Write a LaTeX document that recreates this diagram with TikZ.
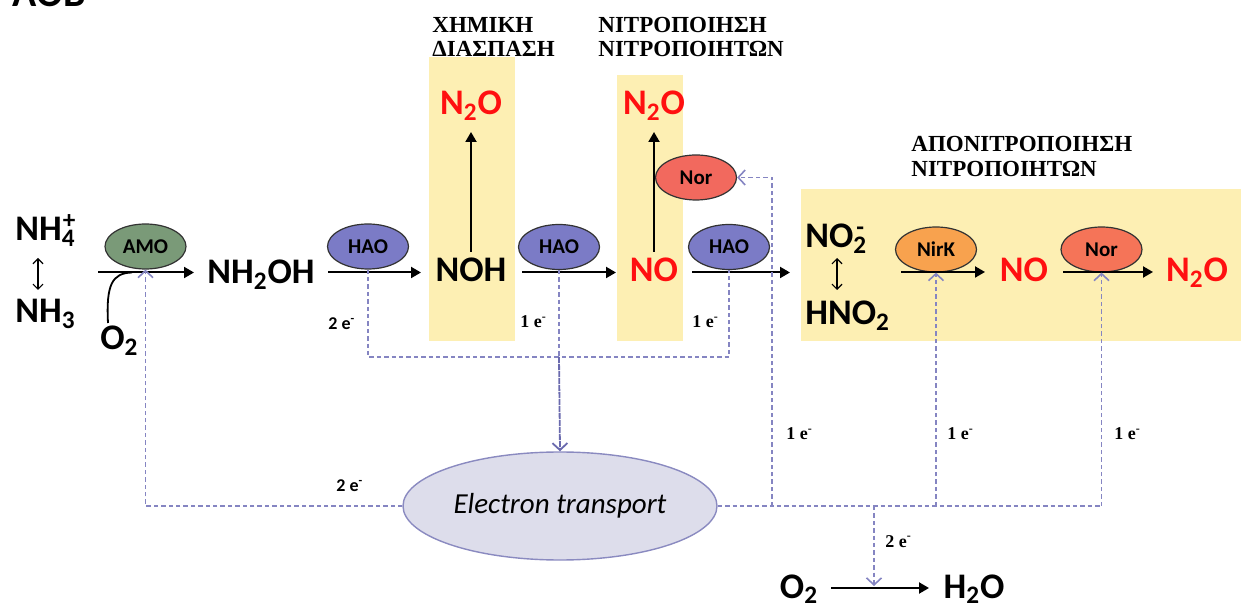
\documentclass[tikz,border=0pt]{standalone}
\usepackage{fontspec}
\setmainfont{Carlito}
\newfontfamily\grk{Liberation Serif}[BoldFont={Liberation Serif Bold}]
\usetikzlibrary{arrows.meta,shapes.geometric}
\definecolor{ylw}{HTML}{FDEFB3}
\definecolor{nred}{HTML}{FF1010}
\definecolor{amoc}{HTML}{7A9A78}
\definecolor{haoc}{HTML}{7B7BC6}
\definecolor{norc}{HTML}{F2695E}
\definecolor{nirc}{HTML}{F8A24E}
\definecolor{nor2c}{HTML}{F57458}
\definecolor{etfill}{HTML}{DDDDEB}
\definecolor{etdraw}{HTML}{8A8AC0}
\definecolor{dcol}{HTML}{8585C2}
\definecolor{dcold}{HTML}{6A6AAE}
\begin{document}
\begin{tikzpicture}[x=0.5pt,y=-0.5pt,
  chem/.style={font=\fontsize{18}{20}\selectfont\bfseries, inner sep=0pt, anchor=base},
  redchem/.style={chem, text=nred},
  enz/.style={ellipse, draw=black!80, line width=0.6pt, minimum width=40.5pt, minimum height=22.5pt, inner sep=0pt, font=\fontsize{10.5}{12}\selectfont\bfseries},
  rx/.style={line width=1pt, -{Triangle[length=5pt,width=5.5pt]}},
  el/.style={draw=dcol, line width=0.85pt, dash pattern=on 2.2pt off 1.5pt},
  elarrow/.style={el, -{Straight Barb[length=3.5pt,width=7.5pt,line width=0.8pt]}},
  hdr/.style={font=\grk\bfseries\fontsize{11.5}{12}\selectfont, anchor=base west, inner sep=0pt},
  elab/.style={font=\fontsize{9}{10}\selectfont\bfseries, inner sep=0pt, anchor=base west},
  elabs/.style={font=\grk\bfseries\fontsize{9}{10}\selectfont, inner sep=0pt, anchor=base west},
  yb/.style={fill=ylw, draw=none}
]
\useasboundingbox (0,0) rectangle (1241,608);

% yellow boxes
\fill[yb] (429,57) rectangle (515,341);
\fill[yb] (617,75) rectangle (683,341);
\fill[yb] (801,189) rectangle (1241,341);

% title (cut at the top edge, as in the reference)
\node[anchor=base west, inner sep=0pt, font=\fontsize{20}{22}\selectfont\bfseries] (aob) at (12,7) {AOB};

% headers
\node[hdr] (h1a) at (432,33) {ΧΗΜΙΚΗ};
\node[hdr] (h1b) at (432,57) {ΔΙΑΣΠΑΣΗ};
\node[hdr] (h2a) at (598,33) {ΝΙΤΡΟΠΟΙΗΣΗ};
\node[hdr] (h2b) at (598,57) {ΝΙΤΡΟΠΟΙΗΤΩΝ};
\node[hdr] (h3a) at (911,152) {ΑΠΟΝΙΤΡΟΠΟΙΗΣΗ};
\node[hdr] (h3b) at (911,177) {ΝΙΤΡΟΠΟΙΗΤΩΝ};

% chemical species
\node[chem, anchor=base west] (nh4) at (15,241) {NH\textsubscript{4}\kern-0.35em\textsuperscript{+}};
\node[chem, anchor=base west] (nh3) at (15,323) {NH\textsubscript{3}};
\node[chem, anchor=base west] (o2a) at (100,350) {O\textsubscript{2}};
\node[chem] (nh2oh) at (261,284) {NH\textsubscript{2}OH};
\node[chem] (noh) at (471,282) {NOH};
\node[redchem] (n2oa) at (471,115) {N\textsubscript{2}O};
\node[redchem] (noa) at (654,282) {NO};
\node[redchem] (n2ob) at (654,115) {N\textsubscript{2}O};
\node[chem, anchor=base west] (no2) at (805,248) {NO\textsubscript{2}\kern-0.3em\textsuperscript{-}};
\node[chem, anchor=base west] (hno2) at (805,325) {HNO\textsubscript{2}};
\node[redchem] (nob) at (1024,282) {NO};
\node[redchem] (n2oc) at (1197,282) {N\textsubscript{2}O};
\node[chem] (o2b) at (799,598) {O\textsubscript{2}};
\node[chem] (h2o) at (974,598) {H\textsubscript{2}O};

% equilibrium arrows
\coordinate (eq1t) at (38,258); \coordinate (eq1b) at (38,290);
\coordinate (eq2t) at (837,258); \coordinate (eq2b) at (837,290);
\draw[line width=0.6pt, {Straight Barb[length=2.5pt,width=5pt]}-{Straight Barb[length=2.5pt,width=5pt]}] (eq1t) -- (eq1b);
\draw[line width=0.6pt, {Straight Barb[length=2.5pt,width=5pt]}-{Straight Barb[length=2.5pt,width=5pt]}] (eq2t) -- (eq2b);

% enzymes
\node[enz, fill=amoc] (amo) at (145.5,246.5) {AMO};
\node[enz, fill=haoc] (hao1) at (368,246.5) {HAO};
\node[enz, fill=haoc] (hao2) at (559,247) {HAO};
\node[enz, fill=norc] (nor1) at (696,177.5) {Nor};
\node[enz, fill=haoc] (hao3) at (729,247) {HAO};
\node[enz, fill=nirc] (nirk) at (936,249.5) {NirK};
\node[enz, fill=nor2c] (nor2) at (1101.5,249.5) {Nor};

% reaction arrows
\coordinate (r1s) at (98,272.5); \coordinate (r1e) at (194,272.5);
\coordinate (r2s) at (328,272.5); \coordinate (r2e) at (421,272.5);
\coordinate (r3s) at (522,272.5); \coordinate (r3e) at (616,272.5);
\coordinate (r4s) at (692,272.5); \coordinate (r4e) at (790,272.5);
\coordinate (r5s) at (901,272); \coordinate (r5e) at (985,272);
\coordinate (r6s) at (1063,272); \coordinate (r6e) at (1153,272);
\coordinate (r7s) at (831,588); \coordinate (r7e) at (929,588);
\draw[rx] (r1s) -- (r1e);
\draw[rx] (r2s) -- (r2e);
\draw[rx] (r3s) -- (r3e);
\draw[rx] (r4s) -- (r4e);
\draw[rx] (r5s) -- (r5e);
\draw[rx] (r6s) -- (r6e);
\draw[rx] (r7s) -- (r7e);
\draw[rx] (noh.north) ++(0,-6) coordinate (v1s) -- (n2oa.south |- 0,132);
\draw[rx] (noa.north) ++(0,-6) coordinate (v2s) -- (n2ob.south |- 0,132);
% O2 entering AMO
\coordinate (o2in) at (132,272.5);
\draw[line width=0.9pt] (o2a.north west) ++(8,-3) .. controls (106,285) and (112,273) .. (o2in);

% electron transport
\node[ellipse, fill=etfill, draw=etdraw, line width=0.7pt, minimum width=157pt, minimum height=54pt, inner sep=0pt, font=\fontsize{14.5}{16}\selectfont\itshape] (et) at (560,506) {Electron transport};

\coordinate (j1) at (368,357);
\coordinate (j2) at (559,357);
\coordinate (j3) at (729,357);
\draw[el] (hao1.south) -- (j1) -- (j3) -- (hao3.south);
\draw[el] (hao2.south) -- (j2);
\draw[draw=dcold, line width=0.9pt, dash pattern=on 3pt off 0.5pt, -{Straight Barb[length=3.5pt,width=7.5pt,line width=0.9pt]}] (j2) -- (et.north);

\draw[elarrow] (et.west) -| (amo.south);
\coordinate (b1) at (772,506);
\coordinate (b2) at (936,506);
\coordinate (b3) at (1101.5,506);
\coordinate (b4) at (874,506);
\draw[el] (et.east) -- (b3);
\draw[elarrow] (b1) |- (nor1.east);
\draw[elarrow] (b2) -- (nirk.south);
\draw[elarrow] (b3) -- (nor2.south);
\draw[elarrow] (b4) -- (874,586) coordinate (b4e);

% electron labels
\node[elab] (l1) at (328,330) {2 e\textsuperscript{-}};
\node[elabs] (l2) at (520,328) {1 e\textsuperscript{-}};
\node[elabs] (l3) at (692,328) {1 e\textsuperscript{-}};
\node[elab] (l4) at (336,492) {2 e\textsuperscript{-}};
\node[elabs] (l5) at (786,440) {1 e\textsuperscript{-}};
\node[elabs] (l6) at (947,440) {1 e\textsuperscript{-}};
\node[elabs] (l7) at (1114,440) {1 e\textsuperscript{-}};
\node[elabs] (l8) at (885,547) {2 e\textsuperscript{-}};
\end{tikzpicture}
\end{document}
